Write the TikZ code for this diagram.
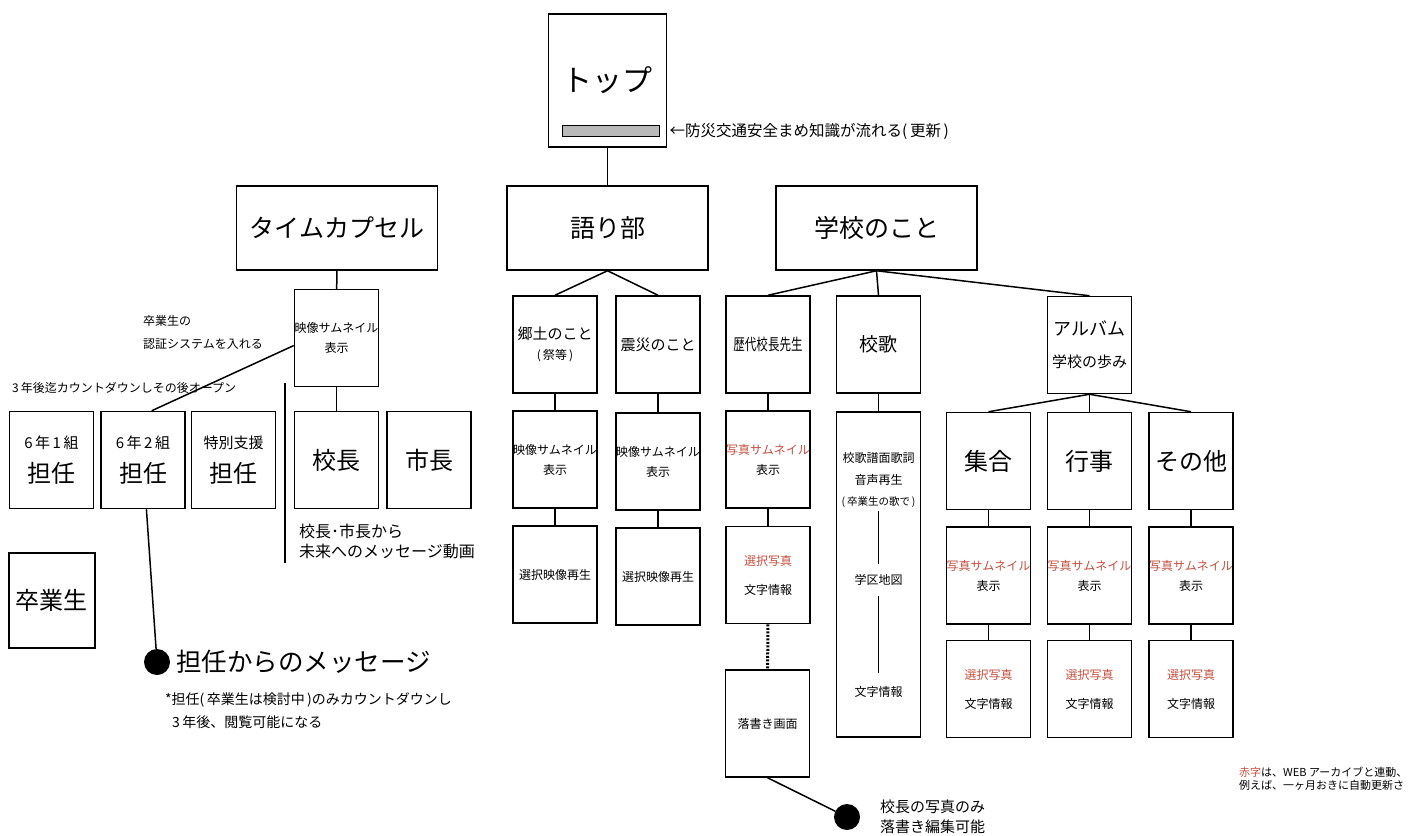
\documentclass[tikz,border=0pt]{standalone}
\usepackage{fontspec}
\setmainfont{Noto Sans CJK JP}
\newfontfamily\narrowjp[FakeStretch=0.72]{Noto Sans CJK JP}
\usetikzlibrary{positioning}
\definecolor{akaji}{RGB}{196,78,62}
\newcommand\fs[2]{\fontsize{#1}{#2}\selectfont}
\tikzset{
  box/.style={draw, line width=1.5pt, minimum width=84pt, minimum height=97pt, inner sep=0pt, align=center, font=\fs{12}{20}},
  bigbox/.style={draw, line width=1.5pt, minimum width=201pt, minimum height=84pt, font=\fs{25}{30}},
  link/.style={line width=1.5pt},
  dot/.style={circle, fill=black, minimum size=26pt, inner sep=0pt},
  note/.style={anchor=west, inner sep=0pt, align=left, font=\fs{12}{23}},
  intext/.style={inner xsep=0pt, inner ysep=10pt, align=center, font=\fs{12}{22}},
}
\begin{document}
\begin{tikzpicture}[x=1pt, y=-1pt]
  \useasboundingbox (0,0) rectangle (1420,835);

  % top page
  \node[draw, line width=1.5pt, minimum width=118pt, minimum height=133pt, font=\fs{30}{34}] (top) at (607.5,80.5) {トップ};
  \node[draw, line width=1pt, fill=gray!55, minimum width=97pt, minimum height=11pt, inner sep=0pt] (ticker) at (610.5,131) {};
  \node[note, font=\fs{15.5}{18}, right=10pt of ticker] (tickernote) {←防災交通安全まめ知識が流れる(\,更新\,)};

  \node[bigbox] (tc) at (337,228) {タイムカプセル};
  \node[bigbox] (katari) at (607.5,228) {語り部};
  \node[bigbox] (gakko) at (876.5,228) {学校のこと};
  \draw[link] (top) -- (katari);

  % time capsule
  \node[box] (tcthumb) at (336.5,338) {映像サムネイル\\表示};
  \node[box, font=\fs{24}{28}] (kocho) at (336.5,460) {校長};
  \node[box, font=\fs{24}{28}] (shicho) at (429,460) {市長};
  \node[box, font=\fs{15}{18}] (kumi1) at (51.5,460) {6\,年\,1\,組\\[12pt]{\fs{24}{28}担任}};
  \node[box, font=\fs{15}{18}] (kumi2) at (143,460) {6\,年\,2\,組\\[12pt]{\fs{24}{28}担任}};
  \node[box, font=\fs{15}{18}] (shien) at (233.5,460) {特別支援\\[12pt]{\fs{24}{28}担任}};
  \node[box, minimum width=86pt, minimum height=95pt, font=\fs{24}{28}] (sotsu) at (52,600.5) {卒業生};
  \draw[link] (tc) -- (tcthumb);
  \draw[link] (tcthumb) -- (kocho);
  \draw[link] (tcthumb.-170) -- (kumi2.80);
  \draw[link] (285,383) -- (285,563);

  \node[note] (authnote) at (143,332.5) {卒業生の\\認証システムを入れる};
  \node[note] (countnote) at (12,388) {3\,年後迄カウントダウンしその後オープン};
  \node[note, font=\fs{16}{20}] (kochonote) at (299,541) {校長･市長から\\未来へのメッセージ動画};

  \node[dot] (dot1) at (157,662) {};
  \draw[link] (kumi2) -- (dot1);
  \node[note, font=\fs{25.5}{28}, right=6pt of dot1] (msgtitle) {担任からのメッセージ};
  \node[note, font=\fs{14}{23}] (msgnote) at (165,711) {*担任(\,卒業生は検討中\,)のみカウントダウンし\\\hspace*{7pt}3\,年後、閲覧可能になる};

  % storytellers
  \node[box, font=\fs{15}{20}] (kyodo) at (555,344.5) {郷土のこと\\{\fs{12}{14}(\,祭等\,)}};
  \node[box, font=\fs{15}{20}] (shinsai) at (658,344.5) {震災のこと};
  \node[box] (kyodothumb) at (555,459.5) {映像サムネイル\\表示};
  \node[box] (shinsaithumb) at (658,461.5) {映像サムネイル\\表示};
  \node[box] (kyodoplay) at (555,574.5) {選択映像再生};
  \node[box] (shinsaiplay) at (658,576.5) {選択映像再生};
  \draw[link] (katari.south) -- (kyodo.north);
  \draw[link] (katari.south) -- (shinsai.north);
  \draw[link] (kyodo) -- (kyodothumb);
  \draw[link] (kyodothumb) -- (kyodoplay);
  \draw[link] (shinsai) -- (shinsaithumb);
  \draw[link] (shinsaithumb) -- (shinsaiplay);

  % school
  \node[box, font=\narrowjp\fs{16}{20}] (rekidai) at (768,344.5) {歴代校長先生};
  \node[box, font=\fs{19}{22}] (kouka) at (878.5,344.5) {校歌};
  \node[box, font=\fs{18}{32}] (album) at (1089.5,345) {アルバム\\{\fs{15}{18}学校の歩み}};
  \draw[link] (gakko.south) -- (rekidai.north);
  \draw[link] (gakko.south) -- (kouka.north);
  \draw[link] (gakko.south) -- (album.north);

  \node[box] (rekidaithumb) at (768,459.5) {{\color{akaji}写真サムネイル}\\表示};
  \node[box] (rekidaiinfo) at (768,575) {{\color{akaji}選択写真}\\[9pt]文字情報};
  \node[box, minimum height=107pt] (rakugaki) at (767.5,723.5) {落書き画面};
  \draw[link] (rekidai) -- (rekidaithumb);
  \draw[link] (rekidaithumb) -- (rekidaiinfo);
  \draw[line width=3pt, dash pattern=on 2pt off 1.5pt] (rekidaiinfo) -- (rakugaki);
  \node[dot] (dot2) at (847,817) {};
  \draw[link] (rakugaki.south) -- (dot2);
  \node[note, font=\fs{15}{20}] (rakunote) at (880,817) {校長の写真のみ\\落書き編集可能};

  \node[box, minimum height=325pt] (koukabox) at (878.5,574.5) {};
  \node[intext, inner ysep=0pt] (kscore) at (878.5,469) {校歌譜面歌詞\\音声再生};
  \node[intext, inner ysep=3pt, font=\fs{10.5}{12}] (ksong) at (878.5,502) {(\,卒業生の歌で\,)};
  \node[intext] (kmap) at (878.5,580) {学区地図};
  \node[intext, inner ysep=13pt] (kinfo) at (878.5,692) {文字情報};
  \draw[link] (kouka) -- (koukabox);
  \draw[link] (ksong) -- (kmap);
  \draw[link] (kmap) -- (kinfo);

  % album
  \node[box, font=\fs{24}{28}] (shugo) at (988.5,461) {集合};
  \node[box, font=\fs{24}{28}] (gyoji) at (1089.5,461) {行事};
  \node[box, font=\fs{24}{28}] (sonota) at (1191,461) {その他};
  \draw[link] (album.south) -- (shugo.north);
  \draw[link] (album.south) -- (gyoji.north);
  \draw[link] (album.south) -- (sonota.north);
  \node[box] (shugothumb) at (988.5,575.5) {{\color{akaji}写真サムネイル}\\表示};
  \node[box] (gyojithumb) at (1089.5,575.5) {{\color{akaji}写真サムネイル}\\表示};
  \node[box] (sonotathumb) at (1191,575.5) {{\color{akaji}写真サムネイル}\\表示};
  \node[box] (shugoinfo) at (988.5,689) {{\color{akaji}選択写真}\\[9pt]文字情報};
  \node[box] (gyojiinfo) at (1089.5,689) {{\color{akaji}選択写真}\\[9pt]文字情報};
  \node[box] (sonotainfo) at (1191,689) {{\color{akaji}選択写真}\\[9pt]文字情報};
  \draw[link] (shugo) -- (shugothumb) -- (shugoinfo);
  \draw[link] (gyoji) -- (gyojithumb) -- (gyojiinfo);
  \draw[link] (sonota) -- (sonotathumb) -- (sonotainfo);

  \node[note, font=\fs{11}{13}] (rednote) at (1239,779) {{\color{akaji}赤字}は、WEB アーカイブと連動、\\例えば、一ヶ月おきに自動更新さ};
\end{tikzpicture}
\end{document}
